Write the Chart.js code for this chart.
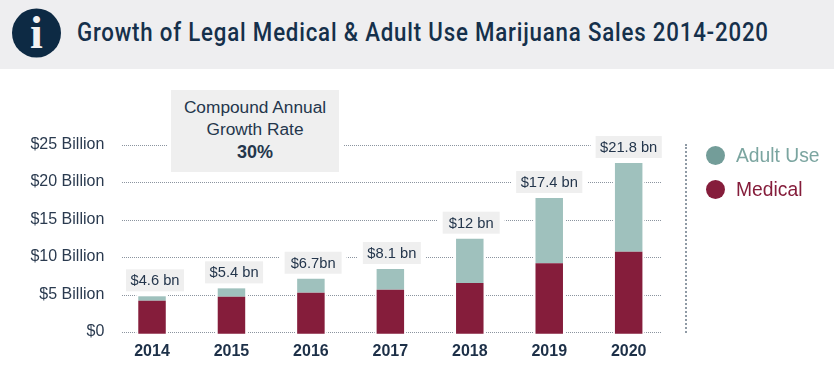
<!DOCTYPE html>
<html>
<head>
<meta charset="utf-8">
<script src="https://cdn.jsdelivr.net/npm/chart.js@4"></script>
<style>
  body { margin: 0; background: #fff; width: 834px; height: 370px; overflow: hidden; position: relative; font-family: "Liberation Sans", sans-serif; }
  #wrap { position: absolute; left: 0; top: 0; width: 834px; height: 370px; }
  #head { position: absolute; left: 0; top: 0; width: 834px; height: 69px; background: #eeeef0; }
  #head svg { position: absolute; left: 12px; top: 8px; }
  #title { position: absolute; left: 77px; top: 17px; font: 500 25px/32px "Roboto", sans-serif; letter-spacing: 0.9px; color: #15304b; white-space: nowrap; transform-origin: left center; }
  #cagr { position: absolute; left: 171px; top: 90px; width: 168px; height: 82px; background: #efefef; outline: 4px solid #fff; text-align: center; color: #24364c; font-size: 17.3px; line-height: 22px; padding-top: 6px; box-sizing: border-box; }
  #cagr b { font-size: 18px; line-height: 24px; }
  #divider { position: absolute; left: 685px; top: 144px; height: 189px; border-left: 2px dotted #8f9aa5; }
  .leg { position: absolute; left: 736px; font-size: 19.3px; line-height: 22px; white-space: nowrap; }
  .leg i { position: absolute; left: -30px; top: 1px; width: 19px; height: 19px; border-radius: 50%; }
</style>
</head>
<body>
<div id="wrap"><canvas id="c" width="834" height="370"></canvas></div>
<div id="head">
  <svg width="50" height="50" viewBox="0 0 50 50">
    <circle cx="24.5" cy="25" r="24.5" fill="#0d2a44"/>
    <text x="24.5" y="40" text-anchor="middle" font-family="Liberation Serif" font-weight="bold" font-size="46" fill="#f2f2f2">i</text>
  </svg>
  <div id="title">Growth of Legal Medical &amp; Adult Use Marijuana Sales 2014-2020</div>
</div>
<div id="cagr">Compound Annual<br>Growth Rate<br><b>30%</b></div>
<div id="divider"></div>
<div class="leg" style="top:145px;color:#7ba5a0"><i style="background:#739d99"></i>Adult Use</div>
<div class="leg" style="top:179px;color:#851d3b"><i style="background:#851d3b"></i>Medical</div>

<script>
const years = ['2014', '2015', '2016', '2017', '2018', '2019', '2020'];
const medical = [4.4, 4.93, 5.47, 5.87, 6.76, 9.39, 10.93];
const adultUse = [0.59, 1.12, 1.86, 2.76, 5.91, 8.7, 11.83];
const totalLabels = ['$4.6 bn', '$5.4 bn', '$6.7bn', '$8.1 bn', '$12 bn', '$17.4 bn', '$21.8 bn'];
const yTicks = [0, 5, 10, 15, 20, 25];

// labels in the original sit a bit right of their bars on the early years
const labelNudge = [3, 2.6, 2.2, 1.5, 1.4, 0, 0];

const gridLeft = 122, gridRight = 661;

// squeeze the title to the printed width, no condensed face is installed
const titleEl = document.getElementById('title');
titleEl.style.transform = 'scaleX(' + (692 / titleEl.offsetWidth) + ')';

const gridPlugin = {
    id: 'dottedGrid',
    beforeDatasetsDraw(chart) {
        const ctx = chart.ctx;
        const y = chart.scales.y;
        ctx.save();
        ctx.strokeStyle = '#8b949f';
        ctx.lineWidth = 1;
        ctx.setLineDash([1, 1]);
        yTicks.forEach(t => {
            const p = Math.round(y.getPixelForValue(t)) + 0.5;
            ctx.beginPath();
            ctx.moveTo(gridLeft, p);
            ctx.lineTo(gridRight, p);
            ctx.stroke();
        });
        ctx.setLineDash([]);
        // white halo round the bars breaks the grid lines
        ctx.fillStyle = '#fff';
        const tops = chart.getDatasetMeta(1).data;
        const bottoms = chart.getDatasetMeta(0).data;
        tops.forEach((bar, i) => {
            const half = bar.width / 2 + 2;
            ctx.fillRect(bar.x - half, bar.y - 2, half * 2, bottoms[i].base - bar.y + 4);
        });
        ctx.restore();
    },
    afterDatasetsDraw(chart) {
        const ctx = chart.ctx;
        ctx.save();
        ctx.font = '14.7px "Liberation Sans"';
        ctx.textAlign = 'center';
        ctx.textBaseline = 'middle';
        chart.getDatasetMeta(1).data.forEach((bar, i) => {
            const text = totalLabels[i];
            const w = Math.max(57, ctx.measureText(text).width + 9);
            const h = 22;
            const cx = bar.x + labelNudge[i];
            const top = bar.y - 5 - h;
            ctx.fillStyle = '#fff';
            ctx.fillRect(cx - w / 2 - 5, top - 1, w + 10, h + 2);
            ctx.fillStyle = '#efefef';
            ctx.fillRect(cx - w / 2, top, w, h);
            ctx.fillStyle = '#24364c';
            ctx.fillText(text, cx, top + h / 2 + 1);
        });
        ctx.restore();
    }
};

new Chart(document.getElementById('c'), {
    type: 'bar',
    data: {
        labels: years,
        datasets: [
            { label: 'Medical', data: medical, backgroundColor: '#851d3b', yAxisID: 'yBars', clip: false },
            { label: 'Adult Use', data: adultUse, backgroundColor: '#9fc1bd', yAxisID: 'yBars', clip: false }
        ]
    },
    plugins: [gridPlugin],
    options: {
        responsive: false,
        animation: false,
        layout: { padding: { top: 144.5, right: 165.6, left: 0, bottom: 0 } },
        datasets: { bar: { barPercentage: 0.346, categoryPercentage: 1 } },
        plugins: { legend: { display: false }, tooltip: { enabled: false } },
        scales: {
            x: {
                stacked: true,
                grid: { display: false, drawTicks: false },
                border: { display: false },
                ticks: { color: '#1d3048', font: { family: 'Liberation Sans', size: 16, weight: 'bold' }, padding: 2, maxRotation: 0 },
                afterFit: s => { s.height = 30.5; }
            },
            y: {
                min: -1,
                max: 25,
                grid: { display: false, drawTicks: false },
                border: { display: false },
                afterBuildTicks: s => { s.ticks = yTicks.map(v => ({ value: v })); },
                ticks: {
                    color: '#2a3a4f',
                    font: { family: 'Liberation Sans', size: 16 },
                    padding: 8,
                    callback: v => v === 0 ? '$0' : '$' + v + ' Billion'
                },
                afterFit: s => { s.width = 112.3; }
            },
            // same px per unit as y, zero sits just under the printed zero line
            yBars: { display: false, stacked: true, min: -0.77, max: 25.23 }
        }
    }
});
</script>
</body>
</html>
